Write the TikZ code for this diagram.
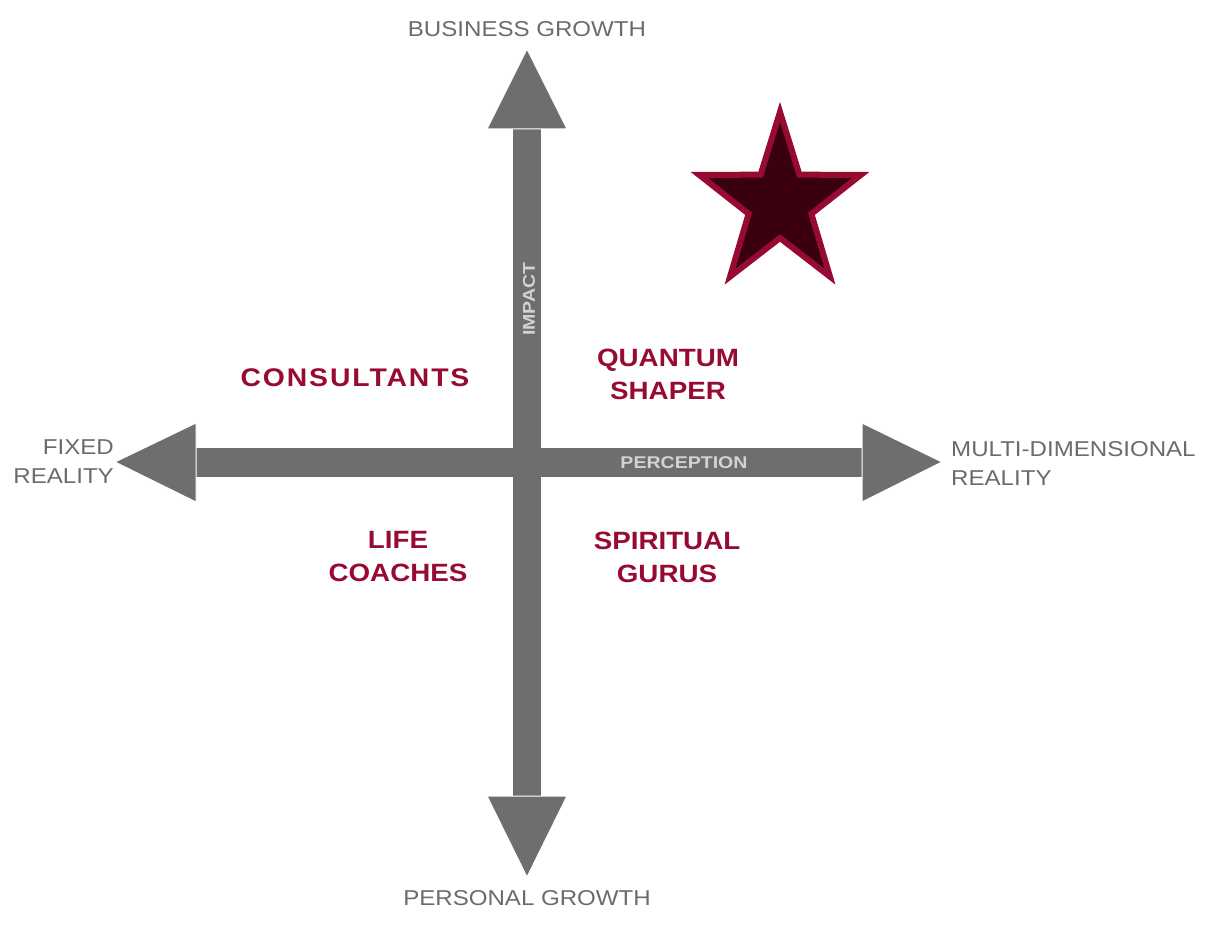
\documentclass[tikz,border=0pt]{standalone}
\usepackage{fontspec}
\setmainfont{Liberation Sans}
\newfontfamily\graylab[FakeStretch=1.12]{Liberation Sans}
\newfontfamily\quadtwo[FakeStretch=1.11]{Liberation Sans}
\newfontfamily\quadcons[FakeStretch=1.11,LetterSpace=7.5]{Liberation Sans}
\newfontfamily\axfont[FakeStretch=1.15]{Liberation Sans}
\usetikzlibrary{calc}
\definecolor{axisgray}{HTML}{6E6E6E}
\definecolor{labgray}{HTML}{6B6B6B}
\definecolor{crim}{HTML}{970A31}
\definecolor{stardark}{HTML}{3A0010}
\definecolor{axtext}{HTML}{D2D2D2}
\begin{document}
\begin{tikzpicture}[x=1pt,y=-1pt,
  axisfill/.style={fill=axisgray,draw=none},
  headfill/.style={fill=axisgray,draw=white,line width=1pt},
  endlabel/.style={text=labgray,font=\graylab\fontsize{21.5}{29}\selectfont,inner sep=0pt},
  quad/.style={text=crim,font=\quadtwo\fontsize{25}{33}\selectfont\bfseries,align=center,inner sep=0pt},
  axlabel/.style={text=axtext,font=\axfont\fontsize{17}{18}\selectfont\bfseries,inner sep=0pt}]
\useasboundingbox (0,0) rectangle (1214,928);
% shafts
\fill[axisfill] (513,129) rectangle (541,796);
\fill[axisfill] (196,448) rectangle (862,477);
% heads
\draw[headfill] (527,49) -- (567,129) -- (487,129) -- cycle;
\draw[headfill] (527,877) -- (567,796) -- (487,796) -- cycle;
\draw[headfill] (115,462) -- (196,423) -- (196,502) -- cycle;
\draw[headfill] (942,462) -- (862,423) -- (862,502) -- cycle;
% star
\coordinate (sc) at (780,203);
\draw[fill=stardark,draw=crim,line width=6pt,line join=miter,miter limit=10]
  ($(sc)+(-90:85 and 91)$) -- ($(sc)+(-54:33 and 35)$) -- ($(sc)+(-18:85 and 91)$) -- ($(sc)+(18:33 and 35)$) --
  ($(sc)+(54:85 and 91)$) -- ($(sc)+(90:33 and 35)$) -- ($(sc)+(126:85 and 91)$) -- ($(sc)+(162:33 and 35)$) --
  ($(sc)+(198:85 and 91)$) -- ($(sc)+(234:33 and 35)$) -- cycle;
% end labels
\node[endlabel] (bg) at (527,29) {BUSINESS GROWTH};
\node[endlabel] (pg) at (527,898) {PERSONAL GROWTH};
\node[endlabel,align=right,anchor=east] (fr) at (114,462) {FIXED\\REALITY};
\node[endlabel,align=left,anchor=west] (mr) at (951,463) {MULTI-DIMENSIONAL\\REALITY};
% quadrant labels
\node[quad,font=\quadcons\fontsize{25.5}{33}\selectfont\bfseries] (cons) at (355,378) {CONSULTANTS};
\node[quad] (qs) at (668,374) {QUANTUM\\SHAPER};
\node[quad] (lc) at (398,557) {LIFE\\COACHES};
\node[quad] (sg) at (667,557) {SPIRITUAL\\GURUS};
% axis labels
\node[axlabel] (perc) at (684,463) {PERCEPTION};
\node[axlabel,rotate=90] (imp) at (529,299) {IMPACT};
\end{tikzpicture}
\end{document}
